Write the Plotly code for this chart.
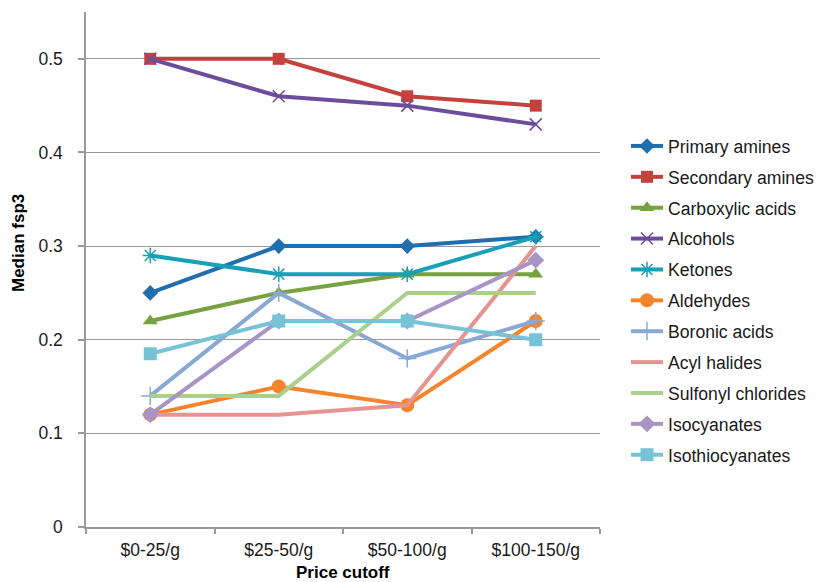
import plotly.graph_objects as go

# Price cutoff categories
categories = ["$0-25/g", "$25-50/g", "$50-100/g", "$100-150/g"]

# Median fsp3 per functional group
primary_amines = [0.25, 0.30, 0.30, 0.31]
secondary_amines = [0.50, 0.50, 0.46, 0.45]
carboxylic_acids = [0.22, 0.25, 0.27, 0.27]
alcohols = [0.50, 0.46, 0.45, 0.43]
ketones = [0.29, 0.27, 0.27, 0.31]
aldehydes = [0.12, 0.15, 0.13, 0.22]
boronic_acids = [0.14, 0.25, 0.18, 0.22]
acyl_halides = [0.12, 0.12, 0.13, 0.30]
sulfonyl_chlorides = [0.14, 0.14, 0.25, 0.25]
isocyanates = [0.12, 0.22, 0.22, 0.285]
isothiocyanates = [0.185, 0.22, 0.22, 0.20]

series = [
    ("Primary amines", primary_amines, "#1F6EAD", "diamond", 12, False),
    ("Secondary amines", secondary_amines, "#C4423D", "square", 12, False),
    ("Carboxylic acids", carboxylic_acids, "#76A33F", "triangle-up", 13, False),
    ("Alcohols", alcohols, "#6C4D9B", "x-thin", 12, True),
    ("Ketones", ketones, "#17A0B7", "asterisk", 13, True),
    ("Aldehydes", aldehydes, "#F5842C", "circle", 14, False),
    ("Boronic acids", boronic_acids, "#89A9D5", "cross-thin", 13, True),
    ("Acyl halides", acyl_halides, "#E69491", None, 0, False),
    ("Sulfonyl chlorides", sulfonyl_chlorides, "#ABCF8C", None, 0, False),
    ("Isocyanates", isocyanates, "#A994C6", "diamond", 13, False),
    ("Isothiocyanates", isothiocyanates, "#76C3D8", "square", 13, False),
]

fig = go.Figure()
for i, (name, vals, color, symbol, size, thin) in enumerate(series):
    if symbol is None:
        mode = "lines"
        marker = dict()
    else:
        mode = "lines+markers"
        if thin:
            marker = dict(symbol=symbol, size=size, color=color,
                          line=dict(color=color, width=1.5))
        else:
            marker = dict(symbol=symbol, size=size, color=color,
                          line=dict(width=0))
    fig.add_trace(go.Scatter(
        x=categories, y=vals, name=name, mode=mode,
        line=dict(color=color, width=4),
        marker=marker, legendgroup=f"g{i}",
    ))

font_family = "Liberation Sans, Arial, sans-serif"
text_color = "#1a1a1a"

# Layout in pixels: plot area spans x 86..600, y 12..527
W, H = 819, 582
ML, MR, MT, MB = 86, 219, 12, 55
pw = W - ML - MR
ph = H - MT - MB

fig.update_layout(
    width=W, height=H,
    margin=dict(l=ML, r=MR, t=MT, b=MB),
    paper_bgcolor="white", plot_bgcolor="white",
    font=dict(family=font_family, size=17.5, color=text_color),
    showlegend=True,
    legend=dict(
        xref="container", yref="container",
        x=626 / W, xanchor="left", y=1 - 300.5 / H, yanchor="middle",
        maxheight=560,
        font=dict(size=17.6, color=text_color),
        tracegroupgap=5.0, itemwidth=32,
        bgcolor="rgba(0,0,0,0)",
    ),
    xaxis=dict(
        type="category",
        range=[-0.5, 3.5],
        showline=True, linecolor="#9a9a9a", linewidth=1.5,
        ticks="outside", tickson="boundaries", ticklen=5,
        tickcolor="#9a9a9a", tickwidth=1.5,
        ticklabelstandoff=6,
        showgrid=False,
        tickfont=dict(size=17.5),
    ),
    yaxis=dict(
        range=[0, 0.55],
        tickvals=[0, 0.1, 0.2, 0.3, 0.4, 0.5],
        ticktext=["0", "0.1", "0.2", "0.3", "0.4", "0.5"],
        showline=True, linecolor="#9a9a9a", linewidth=1.5,
        ticks="outside", ticklen=6, tickcolor="#9a9a9a", tickwidth=1.5,
        ticklabelstandoff=12,
        showgrid=True, gridcolor="#9a9a9a", gridwidth=1.2,
        zeroline=False,
        tickfont=dict(size=17.5),
    ),
    annotations=[
        dict(text="<b>Median fsp3</b>", textangle=-90,
             xref="paper", yref="paper", x=(18 - ML) / pw, y=(527 - 243) / ph,
             xanchor="center", yanchor="middle", showarrow=False,
             font=dict(size=17, color="black")),
        dict(text="<b>Price cutoff</b>",
             xref="paper", yref="paper", x=0.5, y=(527 - 572) / ph,
             xanchor="center", yanchor="middle", showarrow=False,
             font=dict(size=17, color="black")),
    ],
)

fig.write_html("out.html")
